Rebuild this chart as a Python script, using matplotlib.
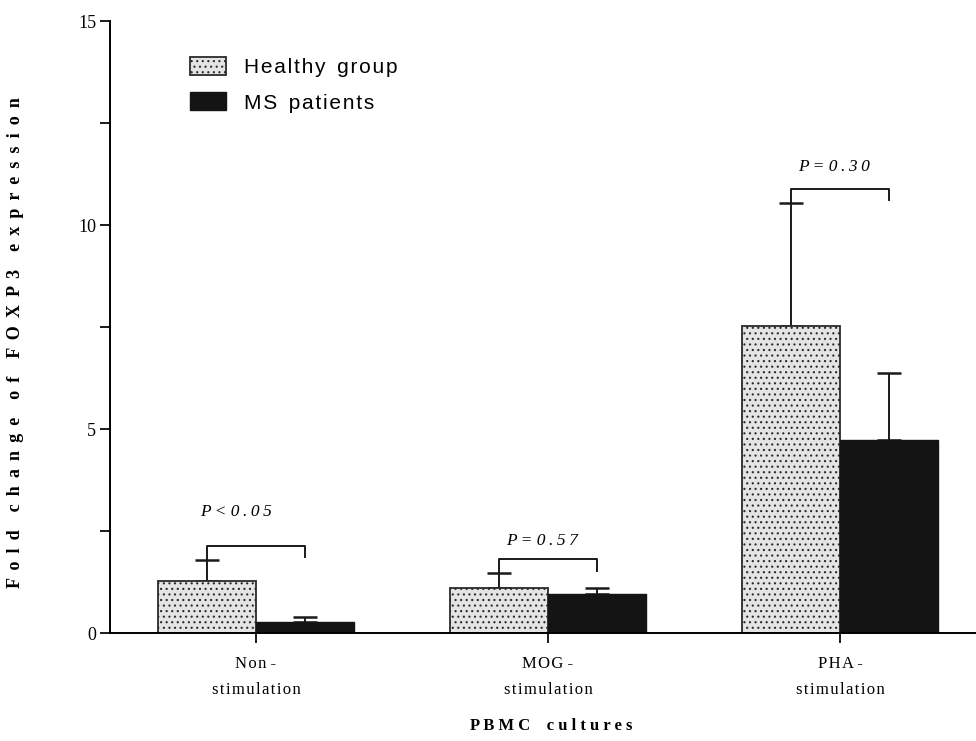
import numpy as np
import matplotlib.pyplot as plt
from matplotlib.patches import Patch

# values
groups = ['Non -\nstimulation', 'MOG -\nstimulation', 'PHA -\nstimulation']
healthy_mean = [1.29, 1.12, 7.54]
healthy_err = [0.51, 0.36, 2.99]
ms_mean = [0.28, 0.96, 4.74]
ms_err = [0.13, 0.16, 1.63]
bracket_top = [2.15, 1.82, 10.88]
bracket_right_end = [1.86, 1.53, 10.61]
p_labels = ['P < 0.05', 'P = 0.57', 'P = 0.30']
p_text_y = [2.96, 2.27, 11.43]
p_text_dx = [-0.07, -0.02, -0.02]
series = ['Healthy group', 'MS patients']

serif = ['Liberation Serif', 'DejaVu Serif']
sans = ['Liberation Sans', 'DejaVu Sans']


def spaced(s, gap, word_gap=None):
    # fake letter spacing, the original is drawn with tracked type
    if word_gap is None:
        word_gap = gap * 3
    lines = []
    for line in s.split('\n'):
        words = [gap.join(list(wd)) for wd in line.split(' ')]
        lines.append(word_gap.join(words))
    return '\n'.join(lines)


HAIR = '\u200a'
THIN = '\u2009'

x = np.arange(len(groups))
w = 0.337

plt.rcParams['hatch.linewidth'] = 0.8
plt.rcParams['hatch.color'] = '#2a2a2a'

fig = plt.figure(figsize=(9.76, 7.41), dpi=100)
ax = fig.add_axes([110 / 976, 1 - 633.3 / 741, 1 - 110 / 976, 612.3 / 741])

ax.bar(x - w / 2, healthy_mean, w, color='#e4e4e4', edgecolor='#2a2a2a',
       linewidth=1.3, hatch='...', zorder=2)
ax.bar(x + w / 2, ms_mean, w, color='#141414', edgecolor='#141414',
       linewidth=1.0, zorder=2)

# upper error bars only
ax.errorbar(x - w / 2, healthy_mean, yerr=[np.zeros(3), healthy_err], fmt='none',
            ecolor='#1a1a1a', elinewidth=1.4, capsize=8.5, capthick=1.8, zorder=1)
ax.errorbar(x + w / 2, ms_mean, yerr=[np.zeros(3), ms_err], fmt='none',
            ecolor='#1a1a1a', elinewidth=1.4, capsize=8.5, capthick=1.8, zorder=1)

# significance brackets
for i in range(len(groups)):
    left_end = healthy_mean[i] + healthy_err[i]
    ax.plot([x[i] - w / 2, x[i] - w / 2, x[i] + w / 2, x[i] + w / 2],
            [left_end, bracket_top[i], bracket_top[i], bracket_right_end[i]],
            color='#1a1a1a', lw=1.4, zorder=3)
    ax.text(x[i] + p_text_dx[i], p_text_y[i], spaced(p_labels[i], THIN, ' '),
            ha='center', va='center', fontsize=12.5, style='italic', family=serif)

ax.set_xlim(-0.5, 2.466)
ax.set_ylim(0, 15)
ax.set_yticks([0, 5, 10, 15])
ax.set_yticks([2.5, 7.5, 12.5], minor=True)
ax.set_xticks(x)
ax.set_xticklabels([spaced(g, HAIR, ' ') for g in groups], family=serif,
                   fontsize=12, linespacing=1.85)
for lab in ax.get_yticklabels():
    lab.set_family(serif)
    lab.set_fontsize(13)

ax.spines['top'].set_visible(False)
ax.spines['right'].set_visible(False)
ax.spines['left'].set_linewidth(1.4)
ax.spines['bottom'].set_linewidth(1.4)
ax.tick_params(axis='both', which='major', length=7, width=1.4, color='#1a1a1a')
ax.tick_params(axis='y', which='minor', length=7, width=1.4, color='#1a1a1a')
ax.tick_params(axis='y', pad=3)
ax.tick_params(axis='x', pad=9)

ax.set_ylabel(spaced('Fold change of FOXP3 expression', ' ' + THIN, '    '),
              family=serif, fontsize=13, fontweight='bold')
ax.yaxis.set_label_coords(-0.099, 0.475)
ax.set_xlabel(spaced('PBMC cultures', ' ', '    '), family=serif, fontsize=12,
              fontweight='bold', va='center')
ax.xaxis.set_label_coords(0.51, -0.152)

handles = [Patch(facecolor='#e4e4e4', edgecolor='#2a2a2a', hatch='...', linewidth=1.3),
           Patch(facecolor='#141414', edgecolor='#141414')]
ax.legend(handles, [spaced(s, HAIR, '  ') for s in series],
          loc='upper left', bbox_to_anchor=(0.0726, 0.969), frameon=False,
          prop={'family': sans, 'size': 15}, handlelength=1.75, handleheight=0.95,
          labelspacing=0.75, handletextpad=0.85, borderpad=0.3)

fig.savefig('out.png', dpi=100)
